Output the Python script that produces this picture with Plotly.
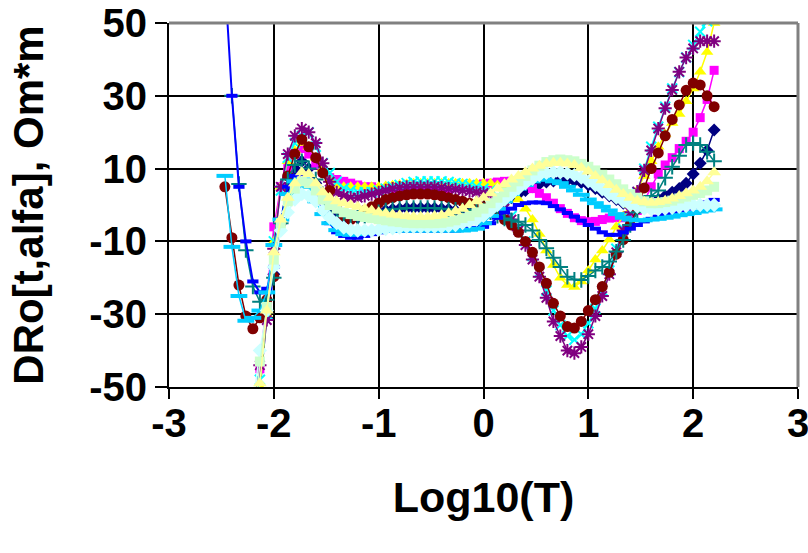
import plotly.graph_objects as go

# log10(T) sampling points
LOG_T = [-2.467, -2.4, -2.333, -2.267, -2.2, -2.133, -2.067, -2.0, -1.933, -1.867,
         -1.8, -1.733, -1.667, -1.6, -1.533, -1.467, -1.4, -1.333, -1.267, -1.2,
         -1.133, -1.067, -1.0, -0.933, -0.867, -0.8, -0.733, -0.667, -0.6, -0.533,
         -0.467, -0.4, -0.333, -0.267, -0.2, -0.133, -0.067, 0.0, 0.067, 0.133,
         0.2, 0.267, 0.333, 0.4, 0.467, 0.533, 0.6, 0.667, 0.733, 0.8,
         0.867, 0.933, 1.0, 1.067, 1.133, 1.2, 1.267, 1.333, 1.4, 1.467,
         1.533, 1.6, 1.667, 1.733, 1.8, 1.867, 1.933, 2.0, 2.067, 2.133,
         2.2]

N = None
s_navy = [N, N, N, N, -62, -51, -31, -19, -5, 5,
          10, 12, 10, 6, 2, -1, -3, -4, -4, -3.5,
          -3, -2.5, -2, -1.5, -1.2, -1, -0.8, -0.8, -0.8, -0.8,
          -0.9, -1, -1.2, -1.5, -1.8, -2, -2, -2, -1.2, 0,
          1, 2, 3, 4, 5, 5.8, 6.3, 6.6, 6.8, 6.8,
          6.6, 6.2, 5.5, 4.5, 3.5, 2.5, 1.5, 0.5, -0.3, -0.6,
          -0.3, 0.5, 1.5, 2.5, 3.5, 4.5, 6, 8.5, 11.5, 15,
          20.6]
s_magenta = [N, N, N, N, -64, -45, -27, -6, 5, 10,
             14, 15.5, 14, 11, 9, 7.5, 7, 6.5, 6, 5.5,
             5, 5, 4.5, 4.5, 4.5, 4.5, 4.5, 4.5, 4.5, 4.5,
             4.5, 4.5, 4.5, 4.8, 5, 5.3, 5.5, 5.8, 6, 6.3,
             6.5, 6.5, 6.2, 5.5, 4.5, 3.2, 2, 0.5, -1, -2.3,
             -3.5, -4.3, -4.6, -4.5, -4, -3.6, -3.5, -3.5, -3, -1.5,
             1, 5, 8.5, 11, 13, 15.5, 17.5, 20, 24, 29,
             37]
s_yellow = [N, N, N, N, -66, -50, -30, -10, 5, 12,
            15, 17, 16, 13, 10, 7, 5.5, 5, 5, 5,
            5, 5, 5, 5.2, 5.4, 5.6, 5.8, 6, 6, 6,
            6, 6, 6, 6, 6, 6, 6, 6, 6, 5.5,
            4.5, 3, 1.5, -1, -4, -8, -12.5, -16.5, -20, -22,
            -22.5, -21, -18, -15, -12.5, -9.5, -6, -3, 0, 4,
            8, 12, 16, 19.5, 22.5, 25, 28.5, 32, 36.6, 42,
            50]
s_cyan = [N, N, N, N, -64, -48, -30, -10, 4, 13,
          17, 19, 20, 16, 11.5, 8.8, 6.4, 4.6, 4, 3.5,
          3.5, 3.5, 4, 4.5, 5, 5.5, 6, 6.3, 6.5, 6.5,
          6.5, 6.5, 6.3, 6, 5.8, 5.5, 5, 4.5, 4, 2.5,
          0, -3, -6.5, -10, -14, -18.5, -23.5, -29, -33, -36,
          -37, -35.5, -32.5, -28.5, -23.5, -18, -12, -6.5, -1.5, 3.5,
          10, 16, 21.5, 27, 32, 36.5, 40.5, 44, 47.6, 50.5,
          56]
s_purple = [N, N, N, N, -58, -44, -31.6, -12, 5, 14,
            19, 21, 20, 17, 11.5, 6.4, 3.5, 2.5, 2, 2,
            2.5, 3, 3.5, 4, 4.5, 4.8, 5, 5, 5, 5,
            5, 4.8, 4.5, 4.3, 4, 3.8, 3.5, 3.3, 3, 1.5,
            -1, -4, -7, -11, -15, -19.7, -25.5, -32, -36, -40,
            -40.7, -39, -35.5, -30.5, -25, -19, -13, -7, -2, 3.7,
            9.5, 15, 21, 26.6, 31.6, 36.6, 40.5, 43, 45, 45,
            45]
s_brown = [5, -9, -22, -30.5, -34, -31, -26, -19.7, -5, 8,
           14, 18, 16, 13, 8.8, 4, 0, -3, -4, -3,
           -1.5, -0.5, 0.5, 1.5, 2, 2.5, 2.8, 3, 3, 3,
           2.8, 2.5, 2, 1.5, 1, 0.5, 0, -0.5, -1.5, -2.5,
           -4, -5.5, -7.5, -10, -13, -17, -21.5, -27, -30.5, -33.4,
           -33.8, -32, -29, -26, -22.4, -18.5, -13.5, -9.5, -5.5, -1,
           4.7, 10, 14.3, 19, 23.5, 27.5, 31.5, 33.5, 33, 30,
           27]
s_teal = [N, 30, 5.8, -12.4, -22.4, -26.6, -26, -20, -5, 7,
          11, 12, 10, 7, 3, 0, -2, -3, -3.5, -3.5,
          -3, -2.5, -2, -1.5, -1.2, -1, -0.8, -0.8, -0.8, -0.8,
          -0.8, -1, -1.2, -1.3, -1.5, -1.5, -1.5, -1.5, -2, -3,
          -3.7, -4.2, -4.6, -5.5, -7, -9.6, -11.9, -14.5, -17, -19.7,
          -20.5, -20.6, -19.5, -18, -17, -15.5, -12.8, -9.6, -5.5, -2,
          0.5, 2.5, 4, 7.5, 10.5, 13.5, 16.5, 17, 16.5, 14.6,
          12]
s_blue = [62, 30, 5, -10, -21, -24, -23, -17, -4, 5,
          8, 8.5, 6, 2, -2, -5, -7.5, -8.5, -9, -9,
          -8.5, -8, -7.5, -7, -7, -7, -7, -7, -7, -7,
          -7, -7, -7, -7, -6.8, -6.5, -6.3, -6, -5, -3.5,
          -2, -1, 0, 0.5, 0.7, 0.7, 0.5, -0.3, -1.2, -2.2,
          -3.2, -4.3, -5.5, -6.5, -7.5, -8.2, -8.2, -7.5, -6.5, -5.5,
          -4.5, -3.8, -3.2, -2.5, -2, -1.5, -1, -0.5, 0, 0.7,
          1.4]
s_skyblue = [8, -11.5, -25, -31.8, -31, -29, -24, -11, -4, 3,
             6.5, 7, 5, 1, -2.5, -5, -6.9, -8, -8.2, -8,
             -7.8, -7.5, -7.3, -7, -7, -7, -7, -7, -7, -7,
             -7, -7, -7, -7, -7, -6.8, -6.5, -5, -3, -1,
             1, 3, 4.5, 5.5, 6.5, 7, 7, 6.5, 6, 5,
             4, 2.8, 1.5, 0.5, -0.5, -1.5, -2.5, -3.5, -4, -4.2,
             -4.2, -4, -3.8, -3.5, -3.2, -2.8, -2.5, -2.2, -1.8, -1.5,
             -1.2]
s_lightcyan = [N, N, N, N, -55, -40, -29, -17, -7, -2,
               1.5, 3, 2.5, 1, -1.5, -3.5, -5, -6.2, -6.8, -7,
               -7, -7, -6.8, -6.6, -6.4, -6.2, -6, -6, -6, -6,
               -6, -6, -5.8, -5.5, -5, -4.5, -4, -3, -1.5, 0,
               1.5, 3, 4.5, 6, 7.2, 8.2, 8.8, 9, 9, 8.7,
               8.2, 7.5, 6.5, 5.5, 4.3, 3, 2, 1, 0, -0.5,
               -1, -1.2, -1.2, -1, -0.8, -0.5, -0.3, 0, 0, 0,
               0]
s_lightgreen = [N, N, N, N, -60, -43, -28, -15, -5, 1,
                4.5, 6.5, 6, 4, 1.5, 0, -1, -2, -2.5, -3,
                -3.3, -3.6, -3.9, -4.2, -4.5, -4.7, -4.9, -5, -5, -5,
                -5, -4.9, -4.6, -4.2, -3.6, -3, -2, -1, 0.5, 2,
                3.5, 5, 6.5, 8, 9.5, 10.8, 11.8, 12.3, 12.5, 12.3,
                12, 11.3, 10.5, 9.5, 8.3, 7, 5.7, 4.3, 3, 2,
                1, 0.5, 0.5, 0.8, 1.2, 1.8, 2.3, 2.8, 3.3, 4,
                5]
s_lightyellow = [N, N, N, N, -65, -49, -29, -13, -4, 2,
                 6, 9, 8.5, 6, 3.5, 2, 1, 0.5, 0, -0.5,
                 -1, -1.5, -2, -2.3, -2.6, -2.8, -3, -3.2, -3.2, -3.2,
                 -3, -2.8, -2.3, -1.7, -1, 0, 1, 2, 3.2, 4.5,
                 5.8, 7, 8, 9, 10, 10.8, 11.3, 11.6, 11.6, 11.4,
                 11, 10.2, 9.2, 8, 6.8, 5.5, 4.2, 3, 2, 1.2,
                 0.8, 0.6, 0.8, 1.2, 1.8, 2.5, 3.2, 4, 5, 6.5,
                 9]

X_TICKS = [-3, -2, -1, 0, 1, 2, 3]
Y_TICKS = [-50, -30, -10, 10, 30, 50]

series = [
    (s_navy, "#000080", "diamond", 10, False, 1.5),
    (s_magenta, "#FF00FF", "square", 9, False, 1.5),
    (s_yellow, "#FFFF00", "triangle-up", 11, False, 1.5),
    (s_cyan, "#00FFFF", "x-thin-open", 10, True, 1.5),
    (s_purple, "#800080", "asterisk-open", 11, True, 1.5),
    (s_brown, "#800000", "circle", 11, False, 1.5),
    (s_teal, "#008080", "cross-thin-open", 11, True, 1.5),
    (s_blue, "#0000FF", "line-ew-open", 8, True, 2),
    (s_skyblue, "#00CCFF", "line-ew-open", 12, True, 1.5),
    (s_lightcyan, "#CCFFFF", "diamond", 11, False, 1.5),
    (s_lightgreen, "#CCFFCC", "square", 10, False, 1.5),
    (s_lightyellow, "#FFFF99", "triangle-up", 12, False, 1.5),
]

fig = go.Figure()
for vals, col, sym, size, is_open, lw in series:
    if is_open:
        mk = dict(symbol=sym, size=size, color=col,
                  line=dict(color=col, width=4 if sym.startswith("line") else 2))
    else:
        mk = dict(symbol=sym, size=size, color=col, line=dict(width=0))
    fig.add_trace(go.Scatter(x=LOG_T, y=vals, mode="lines+markers",
                             line=dict(color=col, width=lw), marker=mk,
                             connectgaps=False, showlegend=False))

FONT = "Liberation Sans, Arial, sans-serif"
fig.update_layout(
    width=808, height=553,
    margin=dict(l=169, r=10, t=23, b=166, autoexpand=False),
    paper_bgcolor="white", plot_bgcolor="white",
    font=dict(family=FONT, size=41, color="black", weight="bold"),
    showlegend=False,
)
fig.update_xaxes(
    range=[-3, 3], tickvals=X_TICKS, ticktext=[str(v) for v in X_TICKS],
    showgrid=True, gridcolor="black", gridwidth=1.5,
    showline=True, linecolor="black", linewidth=2,
    ticks="outside", ticklen=10, tickwidth=1.5, tickcolor="black",
    zeroline=False, automargin=False, ticklabeloverflow="allow",
    ticklabelstandoff=-10,
    tickfont=dict(family=FONT, size=40, color="black", weight="bold"),
    title=dict(text="Log10(T)", standoff=38,
               font=dict(family=FONT, size=43, color="black", weight="bold")),
)
fig.update_yaxes(
    range=[-50, 50], tickvals=Y_TICKS, ticktext=[str(v) for v in Y_TICKS],
    showgrid=True, gridcolor="black", gridwidth=1.5,
    showline=True, linecolor="black", linewidth=2,
    ticks="outside", ticklen=12, tickwidth=1.5, tickcolor="black",
    zeroline=False, automargin=False, ticklabeloverflow="allow",
    tickfont=dict(family=FONT, size=40, color="black", weight="bold"),
    title=dict(text="DRo[t,alfa], Om*m", standoff=32,
               font=dict(family=FONT, size=42, color="black", weight="bold")),
)
# grey frame on top and right of plot area
fig.add_shape(type="line", xref="paper", yref="paper", x0=0, x1=1, y0=1, y1=1,
              line=dict(color="#808080", width=3), layer="above")
fig.add_shape(type="line", xref="paper", yref="paper", x0=1, x1=1, y0=0, y1=1,
              line=dict(color="#808080", width=3), layer="above")

fig.write_html("out.html")
